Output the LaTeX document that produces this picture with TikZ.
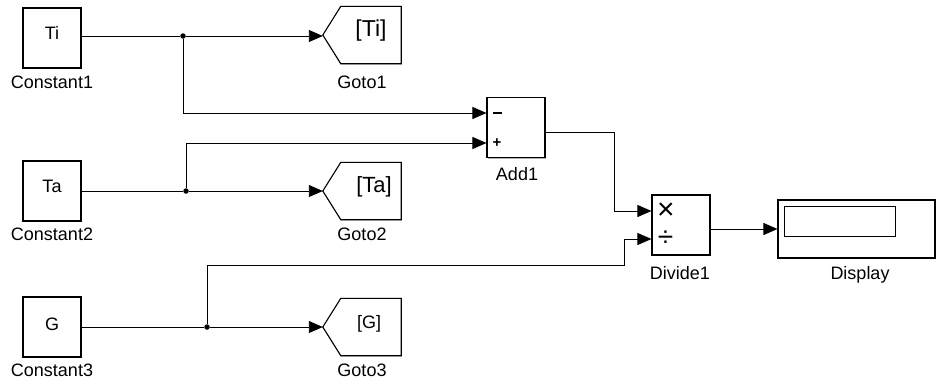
\documentclass[tikz,border=0pt]{standalone}
\usepackage{fontspec}
\setmainfont{Liberation Sans}
\usetikzlibrary{arrows.meta,calc,shadows}
\begin{document}
\begin{tikzpicture}[x=1pt,y=-1pt,
  shd/.style={drop shadow={shadow xshift=1.3pt, shadow yshift=-1.3pt, fill=black!30, opacity=1}},
  blk/.style={draw, line width=1.1pt, fill=white, shd, minimum width=58pt, minimum height=60pt, inner sep=0pt},
  intext/.style={font=\fontsize{18}{20}\selectfont, inner sep=0pt},
  lbl/.style={font=\fontsize{18}{20}\selectfont, inner sep=0pt},
  sig/.style={line width=0.9pt, -{Triangle[length=14pt,width=12pt]}},
  wire/.style={line width=0.9pt},
  dot/.style={circle, fill=black, inner sep=0pt, minimum size=5.5pt},
  gotobox/.style={minimum width=78pt, minimum height=57pt, inner sep=0pt}]
\useasboundingbox (0,0) rectangle (937,388);
% constants
\node[blk] (c1) at (52,38) {};
\node[blk] (c2) at (52,191) {};
\node[blk] (c3) at (52,327) {};
\node[intext] (tc1) at (52,33) {Ti};
\node[intext] (tc2) at (52,186) {Ta};
\node[intext] (tc3) at (52,324) {G};
\node[lbl] (lc1) at (52,82) {Constant1};
\node[lbl] (lc2) at (52,234) {Constant2};
\node[lbl] (lc3) at (52,370) {Constant3};
% gotos
\node[gotobox] (g1) at (362,35) {};
\node[gotobox] (g2) at (362,191) {};
\node[gotobox] (g3) at (362,327) {};
\foreach \g in {g1,g2,g3}{
  \draw[line width=1.1pt, black!30, xshift=1.3pt, yshift=-1.3pt] ([xshift=18pt]\g.north west) -- (\g.north east) -- (\g.south east) -- ([xshift=18pt]\g.south west) -- (\g.west);
  \draw[line width=1.1pt, fill=white] ([xshift=18pt]\g.north west) -- (\g.north east) -- (\g.south east) -- ([xshift=18pt]\g.south west) -- (\g.west) -- cycle;
}
\node[font=\fontsize{23}{25}\selectfont, inner sep=0pt] (tg1) at (371,31) {[Ti]};
\node[font=\fontsize{22}{24}\selectfont, inner sep=0pt] (tg2) at (374,187) {[Ta]};
\node[font=\fontsize{18}{20}\selectfont, inner sep=0pt] (tg3) at (369,324) {[G]};
\node[lbl] (lg1) at (362,82) {Goto1};
\node[lbl] (lg2) at (362,234) {Goto2};
\node[lbl] (lg3) at (362,370) {Goto3};
% add
\node[blk] (add1) at (516,127.5) {};
\node[inner sep=0pt] (am) at (497.5,113) {\rule{8.5pt}{1.8pt}};
\node[font=\bfseries\fontsize{15}{17}\selectfont, inner sep=0pt] (ap) at (497,143) {+};
\node[lbl] (ladd) at (517,174) {Add1};
\coordinate (a1m) at (add1.west |- am);
\coordinate (a1p) at (add1.west |- ap);
\coordinate (a1o) at (add1.east |- 0,132);
% divide
\node[blk] (d1) at (681,225) {};
\node[font=\fontsize{30}{32}\selectfont, inner sep=0pt] (dm) at (666,211) {×};
\node[font=\fontsize{28}{30}\selectfont, inner sep=0pt] (dd) at (665.5,239) {÷};
\node[lbl] (ldiv) at (680,273) {Divide1};
\coordinate (d1m) at (d1.west |- 0,211);
\coordinate (d1d) at (d1.west |- 0,239);
% display
\node[draw, line width=1.1pt, fill=white, shd, minimum width=157pt, minimum height=58pt, inner sep=0pt] (disp) at (856.5,229) {};
\node[draw, line width=0.8pt, minimum width=111pt, minimum height=30pt, inner sep=0pt] (dispin) at (839.5,221) {};
\node[lbl] (ldisp) at (860,275) {Display};
% junctions
\node[dot] (j1) at (183,36) {};
\node[dot] (j2) at (186,191) {};
\node[dot] (j3) at (207,327) {};
% wires
\draw[wire] (c1.east |- j1) -- (j1);
\draw[sig] (j1) -- (g1.west |- j1);
\draw[sig] (j1) |- (a1m);
\draw[wire] (c2.east |- j2) -- (j2);
\draw[sig] (j2) -- (g2.west);
\draw[sig] (j2) |- (a1p);
\draw[wire] (c3.east |- j3) -- (j3);
\draw[sig] (j3) -- (g3.west);
\draw[sig] (j3) -- (207,265) -- (624,265) -- (624,239) -- (d1d);
\draw[sig] (a1o) -- (614,132) -- (614,211) -- (d1m);
\draw[sig] (d1.east |- disp.west) -- (disp.west);
\end{tikzpicture}
\end{document}
